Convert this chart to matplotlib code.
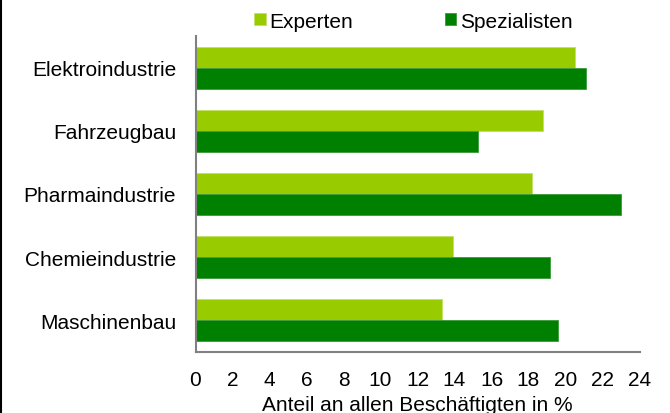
import numpy as np
import matplotlib.pyplot as plt
from matplotlib.lines import Line2D

plt.rcParams['font.family'] = ['Liberation Sans', 'DejaVu Sans']

categories = ['Elektroindustrie', 'Fahrzeugbau', 'Pharmaindustrie',
              'Chemieindustrie', 'Maschinenbau']
experten = [20.5, 18.8, 18.2, 13.9, 13.3]
spezialisten = [21.1, 15.25, 23.0, 19.15, 19.6]
xticks = list(range(0, 25, 2))

fig = plt.figure(figsize=(6.7, 4.14), dpi=100)
ax = fig.add_axes([195.5 / 670, 1 - 353 / 414, 444 / 670, 316 / 414])

y = np.arange(len(categories))[::-1]
h = 0.332
ax.barh(y + h / 2, experten, height=h, color='#99CC00', label='Experten',
        edgecolor='#c2e066', linewidth=0.6)
ax.barh(y - h / 2, spezialisten, height=h, color='#008000', label='Spezialisten',
        edgecolor='#3a9a3a', linewidth=0.6)

ax.set_xlim(0, 24)
ax.set_ylim(-0.5, 4.5)
ax.set_yticks(y)
ax.set_yticklabels(categories, fontsize=15)
ax.set_xticks(xticks)
ax.set_xticklabels([str(t) for t in xticks], fontsize=15)
ax.tick_params(axis='both', length=0)
ax.tick_params(axis='x', pad=13)
ax.tick_params(axis='y', pad=14)
ax.set_xlabel('Anteil an allen Beschäftigten in %', fontsize=15, labelpad=4)

for s in ['top', 'right']:
    ax.spines[s].set_visible(False)
for s in ['left', 'bottom']:
    ax.spines[s].set_color('#808080')
    ax.spines[s].set_linewidth(1.5)

fig.legend(loc='center', bbox_to_anchor=(413.5 / 670, 1 - 22 / 414), ncol=2,
           frameon=False, fontsize=15, handlelength=0.53, handleheight=0.53,
           handletextpad=0.19, columnspacing=4.4)

fig.add_artist(Line2D([0.0015, 0.0015], [0, 1], transform=fig.transFigure,
                      color='black', linewidth=1.5))

plt.savefig('out.png', dpi=100)
plt.close()
